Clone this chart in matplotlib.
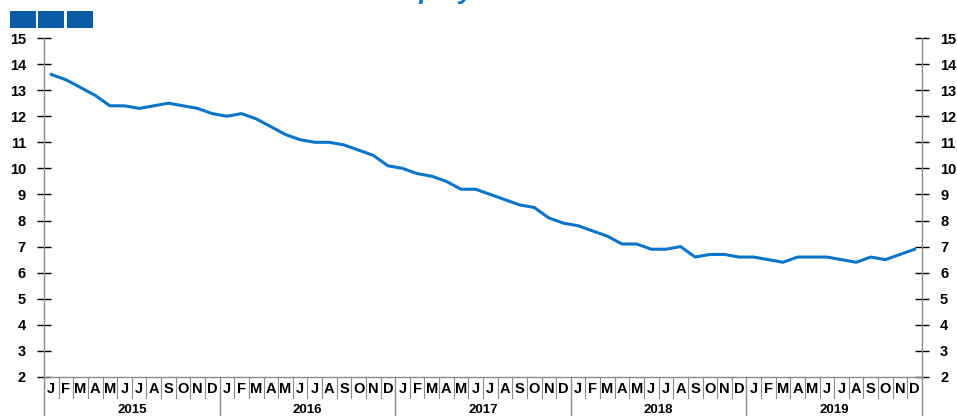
import matplotlib.pyplot as plt
from matplotlib.patches import Rectangle
import matplotlib.transforms as mtransforms

plt.rcParams.update({
    "font.family": ["Liberation Sans", "DejaVu Sans"],
    "font.weight": "bold",
})

years = ["2015", "2016", "2017", "2018", "2019"]
months = ["J", "F", "M", "A", "M", "J", "J", "A", "S", "O", "N", "D"]

rate_2015 = [13.6, 13.4, 13.1, 12.8, 12.4, 12.4, 12.3, 12.4, 12.5, 12.4, 12.3, 12.1]
rate_2016 = [12.0, 12.1, 11.9, 11.6, 11.3, 11.1, 11.0, 11.0, 10.9, 10.7, 10.5, 10.1]
rate_2017 = [10.0, 9.8, 9.7, 9.5, 9.2, 9.2, 9.0, 8.8, 8.6, 8.5, 8.1, 7.9]
rate_2018 = [7.8, 7.6, 7.4, 7.1, 7.1, 6.9, 6.9, 7.0, 6.6, 6.7, 6.7, 6.6]
rate_2019 = [6.6, 6.5, 6.4, 6.6, 6.6, 6.6, 6.5, 6.4, 6.6, 6.5, 6.7, 6.9]

rate = rate_2015 + rate_2016 + rate_2017 + rate_2018 + rate_2019
x = list(range(len(rate)))

line_blue = "#0a74c6"
spine_gray = "#8c8c8c"

fig = plt.figure(figsize=(9.57, 4.16), dpi=100)
ax = fig.add_axes([44 / 957, 1 - 377 / 416, (922 - 44) / 957, (377 - 38) / 416])

ax.plot(x, rate, color=line_blue, linewidth=2.2, solid_joinstyle="round")

ax.set_xlim(-0.5, len(rate) - 0.5)
ax.set_ylim(2, 15)
ax.set_yticks(range(2, 16))

ax.spines["top"].set_visible(False)
for side in ("left", "right", "bottom"):
    ax.spines[side].set_color(spine_gray)
    ax.spines[side].set_linewidth(1.0)

ax.tick_params(axis="y", which="both", direction="inout", length=10, width=1,
               color="black", labelsize=10.5, left=True, right=True,
               labelleft=True, labelright=True, pad=8)
for lbl in ax.get_yticklabels():
    lbl.set_fontweight("bold")
ax.set_xticks([])

# month / year category axis drawn below the plot
trans = mtransforms.blended_transform_factory(ax.transData, ax.transAxes)
n = len(rate)
for i in range(n + 1):
    if i % 12 == 0:
        ax.plot([i - 0.5, i - 0.5], [0, -0.12], transform=trans, color=spine_gray,
                linewidth=1, clip_on=False)
    else:
        ax.plot([i - 0.5, i - 0.5], [0, -0.062], transform=trans, color=spine_gray,
                linewidth=0.8, clip_on=False)
for i in range(n):
    ax.text(i, -0.014, months[i % 12], transform=trans, ha="center", va="top",
            fontsize=10.5, fontweight="bold")
for k, yr in enumerate(years):
    ax.text(k * 12 + 5.5, -0.08, yr, transform=trans, ha="center", va="top",
            fontsize=9.5, fontweight="bold")

# legend-like blocks and clipped title at the top
for k in range(3):
    fig.patches.append(Rectangle(((10 + k * 28.3) / 957, 1 - 28 / 416), 26 / 957, 17 / 416,
                                 transform=fig.transFigure, facecolor="#0b5ca6",
                                 edgecolor="none"))
fig.text(346 / 957, 1 + 1 / 416, "Unemployment", color=line_blue, fontsize=19,
         fontweight="bold", fontstyle="italic", ha="left", va="baseline")

fig.savefig("out.png", dpi=100)
